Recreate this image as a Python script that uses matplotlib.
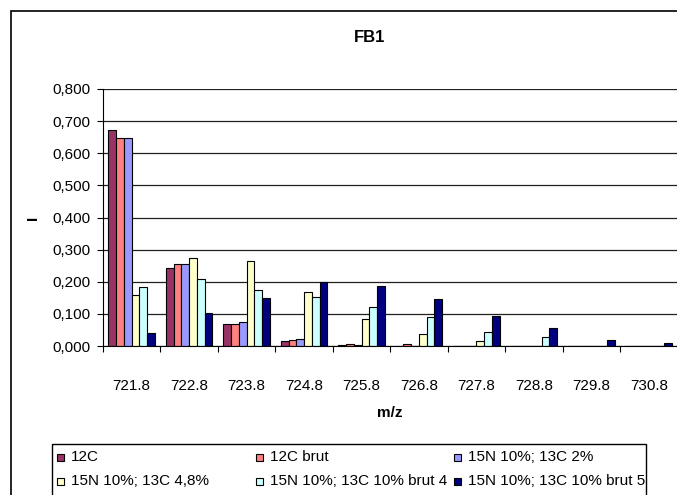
import matplotlib
matplotlib.use("Agg")
import numpy as np
import matplotlib.pyplot as plt
from matplotlib.patches import Rectangle
from matplotlib.ticker import FuncFormatter, MultipleLocator

plt.rcParams['font.family'] = ['Liberation Sans', 'DejaVu Sans']

mz = ["721.8", "722.8", "723.8", "724.8", "725.8", "726.8", "727.8", "728.8", "729.8", "730.8"]

c12 = [0.672, 0.243, 0.070, 0.016, 0.003, 0.000, 0.000, 0.000, 0.000, 0.000]
c12_brut = [0.647, 0.256, 0.070, 0.019, 0.007, 0.006, 0.000, 0.000, 0.000, 0.000]
n15_c13_2 = [0.647, 0.256, 0.074, 0.022, 0.003, 0.000, 0.000, 0.000, 0.000, 0.000]
n15_c13_48 = [0.160, 0.275, 0.264, 0.167, 0.084, 0.036, 0.015, 0.000, 0.000, 0.000]
n15_c13_brut4 = [0.183, 0.208, 0.175, 0.152, 0.120, 0.090, 0.044, 0.027, 0.000, 0.000]
n15_c13_brut5 = [0.040, 0.102, 0.150, 0.200, 0.187, 0.146, 0.093, 0.056, 0.018, 0.008]

series = [c12, c12_brut, n15_c13_2, n15_c13_48, n15_c13_brut4, n15_c13_brut5]
labels = ["12C", "12C brut", "15N 10%; 13C 2%",
          "15N 10%; 13C 4,8%", "15N 10%; 13C 10% brut 4", "15N 10%; 13C 10% brut 5"]
colors = ["#993366", "#FF8080", "#9999FF", "#FFFFCC", "#CCFFFF", "#000080"]

W, H = 677, 495
fs = 11
fig = plt.figure(figsize=(W / 100, H / 100), dpi=100)
ax = fig.add_axes([103 / W, 1 - 346 / H, 574.5 / W, 257 / H])

x = np.arange(len(mz))
bw = 0.135
for j, (vals, col) in enumerate(zip(series, colors)):
    ax.bar(x + (j - 2.5) * bw, vals, width=bw, color=col, edgecolor="black",
           linewidth=0.8, zorder=3)

ax.set_xlim(-0.5, len(mz) - 0.5)
ax.set_ylim(0, 0.8)
ax.yaxis.set_major_locator(MultipleLocator(0.1))
ax.yaxis.set_major_formatter(FuncFormatter(lambda v, p: f"{v:.3f}".replace(".", ",")))
ax.grid(axis="y", color="#202020", linewidth=0.9, zorder=0)

ax.set_xticks(x)
ax.set_xticklabels(mz)
ax.set_xticks(np.arange(len(mz) + 1) - 0.5, minor=True)
ax.tick_params(axis="x", which="major", length=0, pad=24, labelsize=fs)
ax.tick_params(axis="x", which="minor", length=4, direction="out", width=0.8)
ax.tick_params(axis="y", length=4, direction="out", width=0.8, pad=5, labelsize=fs)

for s in ["top", "right"]:
    ax.spines[s].set_visible(False)
for s in ["left", "bottom"]:
    ax.spines[s].set_color("black")
    ax.spines[s].set_linewidth(0.8)
    ax.spines[s].set_zorder(4)

ax.set_xlabel("m/z", fontweight="bold", fontsize=fs)
ax.xaxis.set_label_coords(0.5, (346 - 413) / 257)
ax.xaxis.label.set_va("center")
ax.set_ylabel("I", fontweight="bold", fontsize=fs)
ax.yaxis.set_label_coords((33 - 103) / 574.5, 0.5)
ax.yaxis.label.set_va("center")

fig.text(370 / W, 1 - 38 / H, "FB1", fontweight="bold", fontsize=12,
         ha="center", va="center")

# outer chart frame (cropped on the right and bottom)
fig.patches.append(Rectangle((11 / W, -0.1), 1.2, 1 - 11 / H + 0.1, transform=fig.transFigure,
                             fill=False, edgecolor="black", linewidth=1.2))

# legend box
fig.patches.append(Rectangle((52 / W, -0.1), (646 - 52) / W, 0.1 + 1 - 444 / H,
                             transform=fig.transFigure, fill=False,
                             edgecolor="black", linewidth=1))
col_x = [57, 256, 454]
row_y = [457, 481]
for k, (lab, col) in enumerate(zip(labels, colors)):
    cx = col_x[k % 3]
    cy = row_y[k // 3]
    fig.patches.append(Rectangle((cx / W, 1 - (cy + 3.5) / H), 7 / W, 7 / H,
                                 transform=fig.transFigure, facecolor=col,
                                 edgecolor="black", linewidth=0.8))
    fig.text((cx + 14) / W, 1 - cy / H, lab, fontsize=fs, ha="left", va="center")

fig.savefig("out.png", dpi=100)
